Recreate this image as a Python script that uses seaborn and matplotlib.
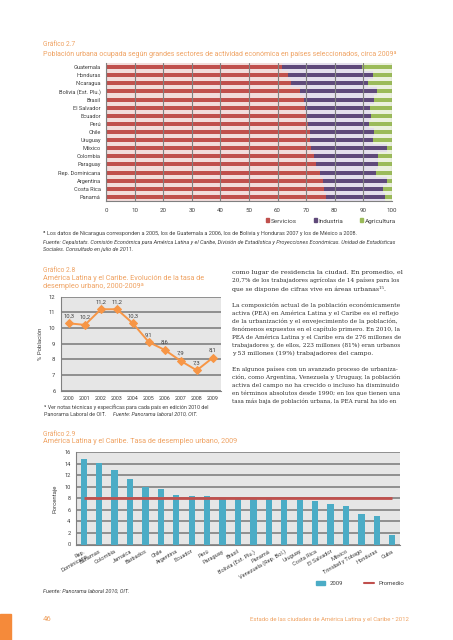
import matplotlib
matplotlib.use("Agg")
from matplotlib import pyplot as plt
from matplotlib.patches import Patch, Rectangle
from matplotlib.lines import Line2D
import seaborn as sns
import numpy as np

# --- Gráfico 2.7: población urbana ocupada por sector (%)
paises_27 = ['Guatemala', 'Honduras', 'Nicaragua', 'Bolivia (Est. Plu.)', 'Brasil',
             'El Salvador', 'Ecuador', 'Perú', 'Chile', 'Uruguay', 'México', 'Colombia',
             'Paraguay', 'Rep. Dominicana', 'Argentina', 'Costa Rica', 'Panamá']
servicios = [61.5, 63.5, 64.7, 67.7, 69.1, 69.7, 70.0, 70.8, 71.2, 71.4, 71.7, 72.6,
             73.4, 74.9, 75.9, 76.3, 77.0]
industria = [28.0, 30.0, 27.1, 27.0, 24.7, 22.7, 22.6, 21.4, 22.6, 21.9, 26.5, 22.7,
             21.9, 19.6, 22.6, 20.5, 20.6]
agricultura = [10.5, 6.5, 8.2, 5.3, 6.2, 7.6, 7.4, 7.8, 6.2, 6.7, 1.8, 4.7,
               4.7, 5.5, 1.5, 3.2, 2.4]

# --- Gráfico 2.8: tasa de desempleo urbano 2000-2009
anios = [2000, 2001, 2002, 2003, 2004, 2005, 2006, 2007, 2008, 2009]
tasa_anual = [10.3, 10.2, 11.2, 11.2, 10.3, 9.1, 8.6, 7.9, 7.3, 8.1]

# --- Gráfico 2.9: tasa de desempleo urbano 2009 por país
paises_29 = ['Rep.\nDominicana', 'Bahamas', 'Colombia', 'Jamaica', 'Barbados', 'Chile',
             'Argentina', 'Ecuador', 'Perú', 'Paraguay', 'Brasil', 'Bolivia (Est. Plu.)',
             'Panamá', 'Venezuela (Rep. Bol.)', 'Uruguay', 'Costa Rica', 'El Salvador',
             'México', 'Trinidad y Tobago', 'Honduras', 'Cuba']
tasa_2009 = [14.9, 14.1, 12.9, 11.4, 10.0, 9.6, 8.6, 8.4, 8.4, 8.1, 8.1, 8.0,
             7.9, 7.8, 7.7, 7.6, 7.1, 6.7, 5.3, 4.9, 1.7]
promedio = 8.1

W, H = 453, 640
NARROW = ['Liberation Sans Narrow', 'Roboto', 'DejaVu Sans']
SERIF = ['DejaVu Serif']
NARANJA = '#EFA262'
GRIS_TXT = '#404040'
GRID = '#808080'


def fx(px):
    return px / W


def fy(py):
    return 1 - py / H


sns.set_style("white")
plt.rcParams['font.family'] = NARROW
plt.rcParams['axes.edgecolor'] = GRID
plt.rcParams['xtick.color'] = GRID
plt.rcParams['ytick.color'] = GRID
plt.rcParams['xtick.labelcolor'] = GRIS_TXT
plt.rcParams['ytick.labelcolor'] = GRIS_TXT

fig = plt.figure(figsize=(W / 100, H / 100), dpi=100)
fig.patch.set_facecolor('white')

# ---------------- Gráfico 2.7 ----------------
fig.text(fx(43), fy(45), 'Gráfico 2.7', color=NARANJA, fontsize=4.8, va='center')
fig.text(fx(43), fy(54.5), 'Población urbana ocupada según grandes sectores de actividad '
         'económica en países seleccionados, circa 2009ª', color=NARANJA, fontsize=5.0,
         va='center')

ax1 = fig.add_axes([fx(106.3), fy(201), fx(285.4), 138 / H])
fin_ind = [s + i for s, i in zip(servicios, industria)]
fin_agr = [s + i + a for s, i, a in zip(servicios, industria, agricultura)]
capas = [(fin_agr, '#EBF1DE', '#9BBB59'),
         (fin_ind, '#E4DFEC', '#5F497A'),
         (servicios, '#F2DCDB', '#C0504D')]
for valores, claro, oscuro in capas:
    sns.barplot(x=valores, y=paises_27, orient='h', width=1.0, color=claro,
                saturation=1, linewidth=0, ax=ax1)
    sns.barplot(x=valores, y=paises_27, orient='h', width=0.5, color=oscuro,
                saturation=1, linewidth=0, ax=ax1)
ax1.set_xlim(0, 100)
ax1.set_ylim(len(paises_27) - 0.5, -0.5)
ax1.set_xticks(range(0, 101, 10))
ax1.xaxis.grid(True, color=GRID, lw=0.8)
ax1.set_axisbelow(False)
ax1.set_yticks(np.arange(-0.5, len(paises_27)), minor=True)
ax1.tick_params(axis='y', which='major', length=0, labelsize=4.1, pad=4)
ax1.tick_params(axis='y', which='minor', length=2, width=0.6)
ax1.tick_params(axis='x', length=2, width=0.6, labelsize=4.4, pad=3)
ax1.set_xlabel('')
ax1.set_ylabel('')
for lado in ['top', 'right']:
    ax1.spines[lado].set_visible(False)

fig.legend(handles=[Patch(color='#C0504D'), Patch(color='#5F497A'), Patch(color='#9BBB59')],
           labels=['Servicios', 'Industria', 'Agricultura'], loc='center',
           bbox_to_anchor=(fx(331), fy(221)), ncol=3, frameon=False, fontsize=4.6,
           handlelength=0.5, handleheight=0.5, handletextpad=0.3, columnspacing=2.6,
           labelcolor=GRIS_TXT)

fig.text(fx(43), fy(233.3), 'ª Los datos de Nicaragua corresponden a 2005, los de Guatemala '
         'a 2006, los de Bolivia y Honduras 2007 y los de México a 2008.',
         fontsize=4.0, color=GRIS_TXT, va='center')
fig.text(fx(43), fy(242.7), 'Fuente: Cepalstats. Comisión Económica para América Latina y el '
         'Caribe, División de Estadística y Proyecciones Económicas. Unidad de Estadísticas',
         fontsize=4.0, color=GRIS_TXT, va='center', style='italic')
fig.text(fx(43), fy(249.7), 'Sociales. Consultado en julio de 2011.',
         fontsize=4.0, color=GRIS_TXT, va='center', style='italic')

# ---------------- Gráfico 2.8 ----------------
fig.text(fx(43), fy(270.5), 'Gráfico 2.8', color=NARANJA, fontsize=4.8, va='center')
fig.text(fx(43), fy(278.5), 'América Latina y el Caribe. Evolución de la tasa de',
         color=NARANJA, fontsize=5.2, va='center')
fig.text(fx(43), fy(287), 'desempleo urbano, 2000-2009ª', color=NARANJA, fontsize=5.2,
         va='center')

ax2 = fig.add_axes([fx(61), fy(390.7), fx(159.7), 94 / H])
ax2.set_facecolor('#E6E6E6')
sns.lineplot(x=anios, y=tasa_anual, color='#F79646', lw=1.4, marker='D', markersize=4,
             markeredgecolor='#F79646', ax=ax2)
for a, t in zip(anios, tasa_anual):
    ax2.annotate(f'{t:.1f}'.replace('.', ','), (a, t), xytext=(0, 3.5),
                 textcoords='offset points', ha='center', va='bottom', fontsize=4.2,
                 color=GRIS_TXT)
ax2.set_xlim(anios[0] - 0.5, anios[-1] + 0.5)
ax2.set_ylim(6, 12)
ax2.set_xticks(anios)
ax2.set_xticks(np.arange(anios[0] - 0.5, anios[-1] + 1), minor=True)
ax2.yaxis.grid(True, color=GRID, lw=1.2)
ax2.tick_params(axis='x', which='major', length=0, labelsize=3.9, pad=4)
ax2.tick_params(axis='x', which='minor', length=2, width=0.6)
ax2.tick_params(axis='y', length=2, width=0.6, labelsize=4.2, pad=2)
ax2.set_ylabel('% Población', fontsize=4.3, color=GRIS_TXT, labelpad=4)
for lado in ['top', 'right']:
    ax2.spines[lado].set_visible(False)

fig.text(fx(43.7), fy(407.3), 'ª Ver notas técnicas y específicas para cada país en edición '
         '2010 del', fontsize=3.9, color=GRIS_TXT, va='center')
fig.text(fx(43.7), fy(414.3), 'Panorama Laboral de OIT.', fontsize=3.9, color=GRIS_TXT,
         va='center')
fig.text(fx(113), fy(414.3), 'Fuente: Panorama laboral 2010, OIT.', fontsize=3.9,
         color=GRIS_TXT, va='center', style='italic')

# ---------------- Texto de la columna derecha ----------------
parrafos = [
    ['como lugar de residencia la ciudad. En promedio, el',
     '20,7% de los trabajadores agrícolas de 14 países para los',
     'que se dispone de cifras vive en áreas urbanas¹⁵.'],
    ['La composición actual de la población económicamente',
     'activa (PEA) en América Latina y el Caribe es el reflejo',
     'de la urbanización y el envejecimiento de la población,',
     'fenómenos expuestos en el capítulo primero. En 2010, la',
     'PEA de América Latina y el Caribe era de 276 millones de',
     'trabajadores y, de ellos, 223 millones (81%) eran urbanos',
     'y 53 millones (19%) trabajadores del campo.'],
    ['En algunos países con un avanzado proceso de urbaniza-',
     'ción, como Argentina, Venezuela y Uruguay, la población',
     'activa del campo no ha crecido o incluso ha disminuido',
     'en términos absolutos desde 1990; en los que tienen una',
     'tasa más baja de población urbana, la PEA rural ha ido en'],
]
y_lineas = [[272.7, 280.7, 289.0],
            [305, 313, 321, 329, 337, 345, 353.3],
            [369.3, 377.3, 385.3, 393.3, 401.3]]
justificar = [[True, True, False], [True] * 6 + [False], [True] * 5]

# líneas justificadas: se ajusta el tamaño de letra para llenar la columna
renderer = fig.canvas.get_renderer()
x_izq, x_der = 231.7, 399.0
for lineas, ys, justs in zip(parrafos, y_lineas, justificar):
    for linea, yy, just in zip(lineas, ys, justs):
        t = fig.text(fx(x_izq), fy(yy), linea, family=SERIF, fontsize=4.5,
                     color='#2e2e2e', va='center')
        if just:
            ancho = t.get_window_extent(renderer).width
            t.set_fontsize(min(4.9, max(4.1, 4.5 * (x_der - x_izq) / ancho)))

# ---------------- Gráfico 2.9 ----------------
fig.text(fx(43), fy(434), 'Gráfico 2.9', color=NARANJA, fontsize=4.8, va='center')
fig.text(fx(43), fy(441.7), 'América Latina y el Caribe. Tasa de desempleo urbano, 2009',
         color=NARANJA, fontsize=5.2, va='center')

ax3 = fig.add_axes([fx(76), fy(544.5), fx(324), 92.2 / H])
ax3.set_facecolor('#E6E6E6')
sns.barplot(x=paises_29, y=tasa_2009, color='#4BACC6', width=0.4, saturation=1,
            linewidth=0, ax=ax3)
ax3.hlines(promedio, 0, len(paises_29) - 1, color='#C0504D', lw=2, zorder=4)
ax3.set_ylim(0, 16)
ax3.set_xlim(-0.5, len(paises_29) - 0.5)
ax3.set_yticks(range(0, 17, 2))
ax3.yaxis.grid(True, color=GRID, lw=1.2)
ax3.set_axisbelow(True)
ax3.set_xticks(np.arange(-0.5, len(paises_29)), minor=True)
ax3.tick_params(axis='x', which='major', length=0, labelsize=4.1, pad=3)
ax3.tick_params(axis='x', which='minor', length=2, width=0.6)
ax3.tick_params(axis='y', length=2, width=0.6, labelsize=4.1, pad=2)
for lbl in ax3.get_xticklabels():
    lbl.set_rotation(30)
    lbl.set_ha('right')
    lbl.set_rotation_mode('anchor')
    lbl.set_multialignment('right')
ax3.set_ylabel('Porcentaje', fontsize=4.3, color=GRIS_TXT, labelpad=5)
for lado in ['top', 'right']:
    ax3.spines[lado].set_visible(False)

fig.legend(handles=[Patch(color='#4BACC6'), Line2D([], [], color='#C0504D', lw=1.5)],
           labels=['2009', 'Promedio'], loc='center', bbox_to_anchor=(fx(360), fy(583.3)),
           ncol=2, frameon=False, fontsize=4.3, handlelength=1.6, handletextpad=0.8,
           columnspacing=3.5, labelcolor=GRIS_TXT)

fig.text(fx(43), fy(591), 'Fuente: Panorama laboral 2010, OIT.', fontsize=4.0,
         color=GRIS_TXT, va='center', style='italic')

# ---------------- Pie de página ----------------
fig.patches.append(Rectangle((0, 0), fx(11), 26 / H, transform=fig.transFigure,
                             color='#F58A3A', zorder=0))
fig.text(fx(43), fy(619.3), '46', color=NARANJA, fontsize=5.6, va='center')
fig.text(fx(409), fy(619.3), 'Estado de las ciudades de América Latina y el Caribe • 2012',
         color=NARANJA, fontsize=4.3, va='center', ha='right')

fig.savefig('out.png', dpi=100)
